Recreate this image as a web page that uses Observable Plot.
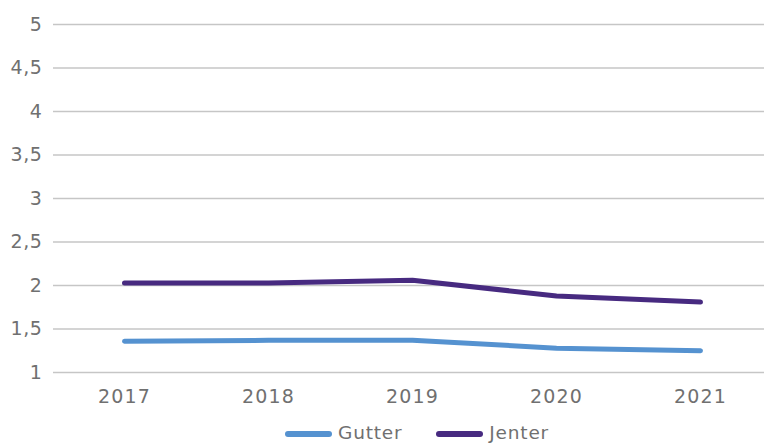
<!DOCTYPE html>
<html><head><meta charset="utf-8">
<script src="https://cdn.jsdelivr.net/npm/d3@7"></script>
<script src="https://cdn.jsdelivr.net/npm/@observablehq/plot@0.6"></script>
<style>
body{margin:0;background:#fff;font-family:"DejaVu Sans",sans-serif;}
#chart svg{display:block;}
#chart g[aria-label="x-axis tick label"] text{letter-spacing:1.2px;}
#chart g[aria-label="y-axis tick label"] text{letter-spacing:0.6px;}
#legend{height:27px;display:flex;justify-content:flex-start;align-items:center;padding-left:285px;color:#707070;font-size:18.5px;line-height:1;letter-spacing:0.8px;font-family:"DejaVu Sans",sans-serif;}
.item{display:flex;align-items:center;margin-right:34px;}
.sw{display:inline-block;width:47px;height:6px;border-radius:3px;margin-right:6px;}
</style>
</head><body>
<div id="chart"></div>
<div id="legend"></div>
<script>
const years = ["2017","2018","2019","2020","2021"];
const gutter = [1.36,1.37,1.37,1.28,1.25];
const jenter = [2.03,2.03,2.06,1.88,1.81];
const yTicks = [1,1.5,2,2.5,3,3.5,4,4.5,5];
const seriesNames = ["Gutter","Jenter"];
const colors = ["#5592d0","#472a80"];

const data = [
  ...years.map((y,i)=>({year:y,value:gutter[i],series:"Gutter"})),
  ...years.map((y,i)=>({year:y,value:jenter[i],series:"Jenter"}))
];

const fmt = d => String(d).replace(".", ",");

const chart = Plot.plot({
  width: 764,
  height: 420,
  marginLeft: 53,
  marginRight: 0,
  marginTop: 24,
  marginBottom: 48,
  style: {fontFamily: "DejaVu Sans, sans-serif", fontSize: "19px", color: "#707070", background: "#fff"},
  x: {type: "point", domain: years, range: [124, 700], padding: 0},
  y: {domain: [1, 5]},
  color: {domain: seriesNames, range: colors},
  marks: [
    Plot.ruleY(yTicks, {stroke: "#c6c6c6", strokeWidth: 1.6}),
    Plot.axisY(yTicks, {tickSize: 0, tickPadding: 11, tickFormat: fmt, label: null}),
    Plot.axisX({tickSize: 0, tickPadding: 17, label: null}),
    Plot.lineY(data, {x: "year", y: "value", z: "series", stroke: "series", strokeWidth: 5, strokeLinecap: "round", strokeLinejoin: "round"})
  ]
});
document.getElementById("chart").appendChild(chart);

const legend = document.getElementById("legend");
seriesNames.forEach((name, i) => {
  const it = document.createElement("span");
  it.className = "item";
  const sw = document.createElement("span");
  sw.className = "sw";
  sw.style.background = colors[i];
  const tx = document.createElement("span");
  tx.textContent = name;
  it.appendChild(sw); it.appendChild(tx);
  legend.appendChild(it);
});
</script>
</body></html>
